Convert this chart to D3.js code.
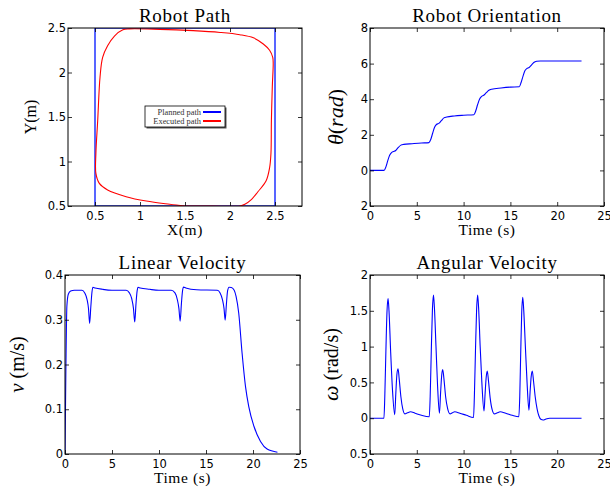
<!DOCTYPE html>
<html><head><meta charset="utf-8">
<script src="https://cdn.jsdelivr.net/npm/d3@7"></script>
<style>body{margin:0;background:#fff}svg{display:block}</style>
</head><body><svg id="c" width="610" height="487"></svg>
<script>
// ---------- data ----------
const plannedX = [0.5, 2.5, 2.5, 0.5, 0.5];
const plannedY = [0.5, 0.5, 2.5, 2.5, 0.5];
const executedX = [1.50,1.80,2.11,2.165,2.24,2.31,2.40,2.44,2.455,2.46,2.47,2.48,2.475,2.44,2.37,2.26,2.11,1.89,1.59,1.22,0.88,0.81,0.716,0.64,0.585,0.556,0.53,0.51,0.51,0.548,0.64,0.846,1.07,1.33,1.50];
const executedY = [0.50,0.50,0.50,0.52,0.575,0.66,0.78,0.93,1.09,1.46,1.84,2.10,2.17,2.25,2.32,2.39,2.425,2.45,2.47,2.485,2.49,2.48,2.41,2.30,2.17,1.95,1.46,1.09,0.866,0.754,0.68,0.605,0.556,0.52,0.50];

const timeTheta = [0,1.5,1.7,1.9,2.1,2.3,2.5,2.75,3.0,3.3,3.6,4.5,5.5,6.3,6.5,6.7,6.9,7.1,7.35,7.6,7.9,8.2,9.0,10.0,11.1,11.3,11.5,11.7,11.9,12.15,12.4,12.7,13.0,14.0,15.0,15.95,16.15,16.35,16.55,16.75,17.0,17.25,17.5,17.8,18.2,19.0,22.6];
const theta = [0,0,0.2,0.55,0.85,1.0,1.06,1.12,1.28,1.42,1.46,1.5,1.54,1.56,1.75,2.1,2.42,2.58,2.64,2.78,2.95,3.0,3.06,3.1,3.13,3.35,3.7,4.0,4.15,4.22,4.35,4.5,4.56,4.63,4.68,4.7,4.95,5.3,5.6,5.72,5.78,5.92,6.06,6.13,6.15,6.15,6.15];

const timeV = [0,0.1,0.2,0.35,0.6,1.0,1.8,2.1,2.35,2.5,2.62,2.75,2.87,2.97,3.2,4.0,5.0,6.5,6.85,7.1,7.28,7.42,7.55,7.67,7.77,8.0,9.0,10.0,11.3,11.7,11.95,12.12,12.25,12.38,12.5,12.6,12.85,14.0,16.2,16.5,16.75,16.92,17.04,17.17,17.3,17.45,17.7,18.0,18.2,18.48,18.84,19.2,19.55,20.1,20.8,21.5,22.6];
const linVel = [0,0.2,0.33,0.357,0.364,0.366,0.366,0.36,0.345,0.325,0.292,0.33,0.362,0.3725,0.371,0.368,0.366,0.366,0.36,0.347,0.326,0.295,0.335,0.364,0.3725,0.371,0.368,0.366,0.366,0.36,0.345,0.325,0.297,0.335,0.364,0.373,0.371,0.367,0.366,0.36,0.345,0.325,0.299,0.335,0.365,0.3725,0.372,0.366,0.352,0.315,0.225,0.151,0.106,0.062,0.028,0.011,0.004];

const timeW = [0,1.49,1.58,1.7,1.82,1.93,2.03,2.2,2.4,2.64,2.76,2.88,3.0,3.12,3.3,3.5,3.72,4.0,4.33,4.8,5.5,6.33,
  6.43,6.55,6.67,6.78,6.88,7.05,7.22,7.42,7.54,7.66,7.77,7.9,8.08,8.3,8.55,8.8,9.05,9.6,10.3,11.06,
  11.15,11.27,11.39,11.5,11.6,11.77,11.95,12.18,12.3,12.42,12.53,12.66,12.84,13.05,13.3,13.6,13.9,14.5,15.2,15.9,
  16.0,16.1,16.21,16.32,16.42,16.6,16.78,16.98,17.1,17.22,17.34,17.47,17.65,17.85,18.05,18.25,18.5,18.8,19.2,22.6];
const angVel = [0,0,0.3,0.95,1.5,1.67,1.5,0.95,0.4,0.05,0.35,0.62,0.69,0.55,0.3,0.13,0.06,0.075,0.09,0.07,0.04,0.02,
  0.3,0.95,1.52,1.72,1.55,1.0,0.45,0.07,0.35,0.6,0.68,0.55,0.3,0.13,0.06,0.075,0.09,0.07,0.04,0.01,
  0.3,0.95,1.52,1.72,1.55,1.0,0.5,0.1,0.35,0.58,0.66,0.52,0.28,0.12,0.06,0.075,0.09,0.07,0.04,0.02,
  0.3,0.9,1.48,1.69,1.52,1.0,0.5,0.11,0.36,0.58,0.66,0.52,0.3,0.13,0.03,-0.015,-0.025,-0.01,0,0];

const pathXTicks = [0.5,1,1.5,2,2.5];
const pathXTickLabels = ["0.5","1","1.5","2","2.5"];
const pathYTicks = [0.5,1,1.5,2,2.5];
const pathYTickLabels = ["0.5","1","1.5","2","2.5"];
const timeTicks = [0,5,10,15,20,25];
const timeTickLabels = ["0","5","10","15","20","25"];
const thetaTicks = [-2,0,2,4,6,8];
const thetaTickLabels = ["2","0","2","4","6","8"];
const vTicks = [0,0.1,0.2,0.3,0.4];
const vTickLabels = ["0","0.1","0.2","0.3","0.4"];
const wTicks = [-0.5,0,0.5,1,1.5,2];
const wTickLabels = ["0.5","0","0.5","1","1.5","2"];

// ---------- drawing ----------
const svg = d3.select("#c");
const SERIF = "'Liberation Serif', 'DejaVu Serif', serif";
const SANS = "'DejaVu Sans', sans-serif";

function panel(o) {
  const x = d3.scaleLinear().domain(o.xd).range([o.l, o.r]);
  const y = d3.scaleLinear().domain(o.yd).range([o.b, o.t]);
  const g = svg.append("g");
  const cid = "clip" + o.id;
  svg.append("clipPath").attr("id", cid).append("rect")
    .attr("x", o.l).attr("y", o.t).attr("width", o.r - o.l).attr("height", o.b - o.t);

  const fmtX = (d, i) => o.xl[i], fmtY = (d, i) => o.yl[i];
  const ax = [
    [d3.axisBottom(x).tickValues(o.xt).tickFormat(fmtX).tickSize(-4).tickPadding(6), `translate(0,${o.b})`],
    [d3.axisTop(x).tickValues(o.xt).tickFormat("").tickSize(-4), `translate(0,${o.t})`],
    [d3.axisLeft(y).tickValues(o.yt).tickFormat(fmtY).tickSize(-4).tickPadding(2), `translate(${o.l},0)`],
    [d3.axisRight(y).tickValues(o.yt).tickFormat("").tickSize(-4), `translate(${o.r},0)`]
  ];

  const lg = g.append("g").attr("clip-path", `url(#${cid})`);
  o.series.forEach(s => {
    const pts = s.xs.map((v, i) => [v, s.ys[i]]);
    lg.append("path").datum(pts)
      .attr("fill", "none").attr("stroke", s.color).attr("stroke-width", s.w || 1.1)
      .attr("stroke-linejoin", "round")
      .attr("d", d3.line().x(d => x(d[0])).y(d => y(d[1])).curve(s.curve || d3.curveMonotoneX));
  });

  ax.forEach(([a, tr]) => {
    const ag = g.append("g").attr("transform", tr).call(a);
    ag.select(".domain").remove();
    ag.selectAll(".tick line").attr("stroke", "#000").attr("stroke-width", 0.8);
    ag.selectAll("text").attr("font-family", SANS).attr("font-size", 11.5).attr("fill", "#000");
  });
  g.append("rect").attr("x", o.l).attr("y", o.t).attr("width", o.r - o.l).attr("height", o.b - o.t)
    .attr("fill", "none").attr("stroke", "#000").attr("stroke-width", 1);

  const cx = (o.l + o.r) / 2, cy = (o.t + o.b) / 2;
  svg.append("text").attr("x", cx).attr("y", o.t - 6).attr("text-anchor", "middle")
    .attr("font-family", SERIF).attr("font-size", 19).attr("letter-spacing", 0.7).text(o.title);
  const xlab = svg.append("text").attr("x", cx).attr("y", o.b + 29).attr("text-anchor", "middle")
    .attr("font-family", SERIF).attr("font-size", 15.5).attr("letter-spacing", 0.6);
  o.xlabel.forEach(p => xlab.append("tspan").attr("font-style", p[1] ? "italic" : null).attr("font-size", p[2] || null).text(p[0]));
  const ylab = svg.append("text").attr("transform", `translate(${o.ylx},${cy}) rotate(-90)`)
    .attr("text-anchor", "middle").attr("font-family", SERIF).attr("font-size", o.ylfs || 16);
  o.ylabel.forEach(p => ylab.append("tspan").attr("font-style", p[1] ? "italic" : null).attr("font-size", p[2] || null).text(p[0]));
  return {x, y, g};
}

panel({
  id: 1, l: 68, r: 302, t: 28, b: 206, xd: [0.2, 2.8], yd: [0.5, 2.5],
  xt: pathXTicks, xl: pathXTickLabels, yt: pathYTicks, yl: pathYTickLabels,
  title: "Robot Path", xlabel: [["X(m)"]], ylabel: [["Y(m)"]], ylx: 36,
  series: [
    {xs: plannedX, ys: plannedY, color: "#2233ff", w: 1.5, curve: d3.curveLinear},
    {xs: executedX, ys: executedY, color: "#ff0000", w: 1.1, curve: d3.curveCatmullRom.alpha(0.5)}
  ]
});

// legend
(function () {
  const g = svg.append("g");
  const lx = 145, ly = 106, lw = 80, lh = 21;
  g.append("rect").attr("x", lx + 1.5).attr("y", ly + 1.5).attr("width", lw).attr("height", lh).attr("fill", "#555");
  g.append("rect").attr("x", lx).attr("y", ly).attr("width", lw).attr("height", lh).attr("fill", "#fff")
    .attr("stroke", "#000").attr("stroke-width", 0.8);
  const rows = [["Planned path", "#0000ff"], ["Executed path", "#ff0000"]];
  rows.forEach((r, i) => {
    const yy = ly + 6 + i * 9;
    g.append("text").attr("x", lx + 56).attr("y", yy + 2.8).attr("text-anchor", "end")
      .attr("font-family", SERIF).attr("font-size", 8.4).attr("fill", "#333").text(r[0]);
    g.append("line").attr("x1", lx + 58).attr("x2", lx + 76).attr("y1", yy).attr("y2", yy)
      .attr("stroke", r[1]).attr("stroke-width", 2);
  });
})();

panel({
  id: 2, l: 370, r: 604, t: 28, b: 206, xd: [0, 25], yd: [-2, 8],
  xt: timeTicks, xl: timeTickLabels, yt: thetaTicks, yl: thetaTickLabels,
  title: "Robot Orientation", xlabel: [["Time (s)"]], ylabel: [["θ", true], ["(", false], ["rad", true], [")", false]],
  ylx: 343, ylfs: 22,
  series: [{xs: timeTheta, ys: theta, color: "#0000ff"}]
});

panel({
  id: 3, l: 65, r: 300, t: 275, b: 454, xd: [0, 25], yd: [0, 0.4],
  xt: timeTicks, xl: timeTickLabels, yt: vTicks, yl: vTickLabels,
  title: "Linear Velocity", xlabel: [["Time (s)"]], ylabel: [["v", true, 21], [" (m/s)", false]],
  ylx: 24, ylfs: 20,
  series: [{xs: timeV, ys: linVel, color: "#0000ff"}]
});

panel({
  id: 4, l: 370, r: 604, t: 275, b: 454, xd: [0, 25], yd: [-0.5, 2],
  xt: timeTicks, xl: timeTickLabels, yt: wTicks, yl: wTickLabels,
  title: "Angular Velocity", xlabel: [["Time (s)"]], ylabel: [["ω", true, 22], [" (rad/s)", false]],
  ylx: 338, ylfs: 20,
  series: [{xs: timeW, ys: angVel, color: "#0000ff"}]
});
</script></body></html>
